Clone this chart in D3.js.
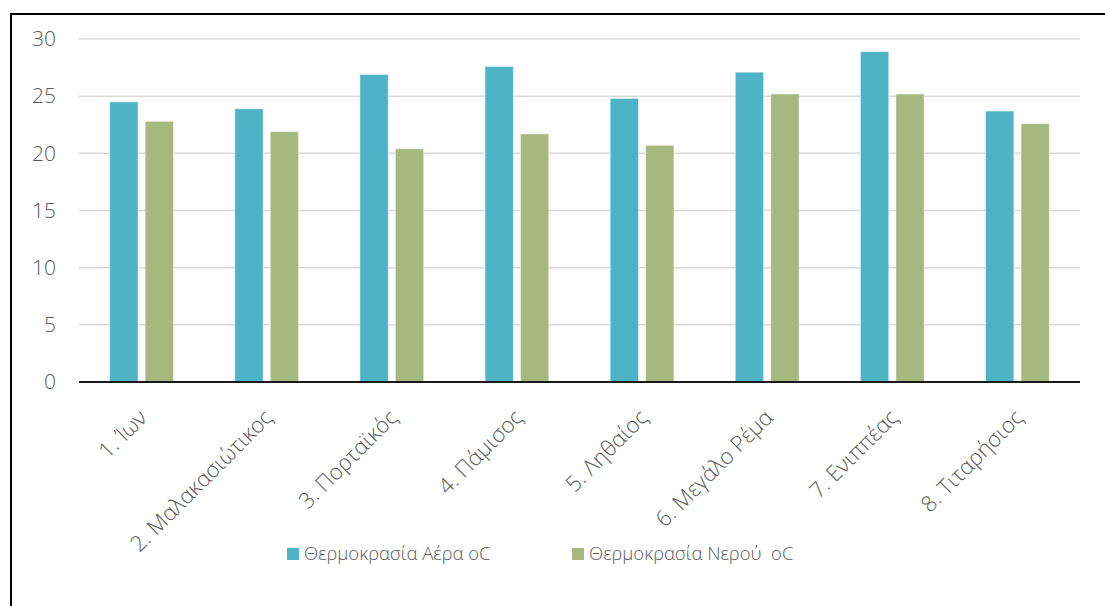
<!DOCTYPE html>
<html><head><meta charset="utf-8">
<script src="https://cdn.jsdelivr.net/npm/d3@7"></script>
<style>body{margin:0;background:#fff}svg{display:block}text{font-family:"Open Sans",sans-serif}</style>
</head><body>
<svg id="c" width="1105" height="606"></svg>
<script>
const categories = ["1. Ίων","2. Μαλακασιώτικος","3. Πορταϊκός","4. Πάμισος","5. Ληθαίος","6. Μεγάλο Ρέμα","7. Ενιππέας","8. Τιταρήσιος"];
const seriesNames = ["Θερμοκρασία Αέρα oC","Θερμοκρασία Νερού  oC"];
const airTemp = [24.5, 23.9, 26.9, 27.6, 24.8, 27.1, 28.9, 23.7];
const waterTemp = [22.8, 21.9, 20.4, 21.7, 20.7, 25.2, 25.2, 22.6];
const yTicks = [0,5,10,15,20,25,30];
const colors = ["#4FB3C8","#A7B87E"];

const svg = d3.select("#c");
svg.append("rect").attr("x",11).attr("y",14).attr("width",1110).attr("height",620)
  .attr("fill","#fff").attr("stroke","#000").attr("stroke-width",2);

const L=79,R=1080,T=39,B=382;
const x = d3.scaleBand().domain(categories).range([L,R]).paddingInner(0.49).paddingOuter(0.245);
const xs = d3.scaleBand().domain([0,1]).range([0,x.bandwidth()]).paddingInner(0.2);
const y = d3.scaleLinear().domain([0,30]).range([B,T]);

const grid = svg.append("g");
grid.selectAll("line").data(yTicks.filter(d=>d>0)).join("line")
  .attr("x1",L).attr("x2",R).attr("y1",d=>y(d)).attr("y2",d=>y(d))
  .attr("stroke","#d9d9d9").attr("stroke-width",1.5);

const yAxis = svg.append("g").attr("transform",`translate(${L},0)`)
  .call(d3.axisLeft(y).tickValues(yTicks).tickSize(0).tickPadding(23));
yAxis.select(".domain").remove();
yAxis.attr("font-size",null).attr("font-family",null);
yAxis.selectAll("text").attr("font-size",21).attr("fill","#595959").attr("font-weight",300);

const data = [airTemp, waterTemp];
data.forEach((vals,si)=>{
  svg.append("g").selectAll("rect").data(vals).join("rect")
    .attr("x",(d,i)=>x(categories[i])+xs(si))
    .attr("width",xs.bandwidth())
    .attr("y",d=>y(d)).attr("height",d=>B-y(d))
    .attr("fill",colors[si]).attr("stroke","rgba(255,255,255,0.5)").attr("stroke-width",1);
});

svg.append("line").attr("x1",L).attr("x2",R).attr("y1",B).attr("y2",B).attr("stroke","#1a1a1a").attr("stroke-width",2);

const xAxis = svg.append("g").attr("transform",`translate(0,${B})`)
  .call(d3.axisBottom(x).tickSize(0).tickPadding(0));
xAxis.select(".domain").remove();
xAxis.attr("font-size",null).attr("font-family",null);
xAxis.selectAll("text")
  .attr("font-size",22).attr("fill","#595959").attr("font-weight",300)
  .attr("text-anchor","end").attr("dy",0)
  .attr("transform","translate(7,37) rotate(-45)");

const leg = svg.append("g");
const legX = [287, 572];
seriesNames.forEach((n,i)=>{
  leg.append("rect").attr("x",legX[i]).attr("y",548).attr("width",12).attr("height",12).attr("fill",colors[i]);
  leg.append("text").attr("x",legX[i]+17).attr("y",555).attr("font-size",18.5).attr("fill","#595959").attr("font-weight",300)
    .attr("dominant-baseline","middle").style("white-space","pre").attr("xml:space","preserve").text(n);
});
</script>
</body></html>
